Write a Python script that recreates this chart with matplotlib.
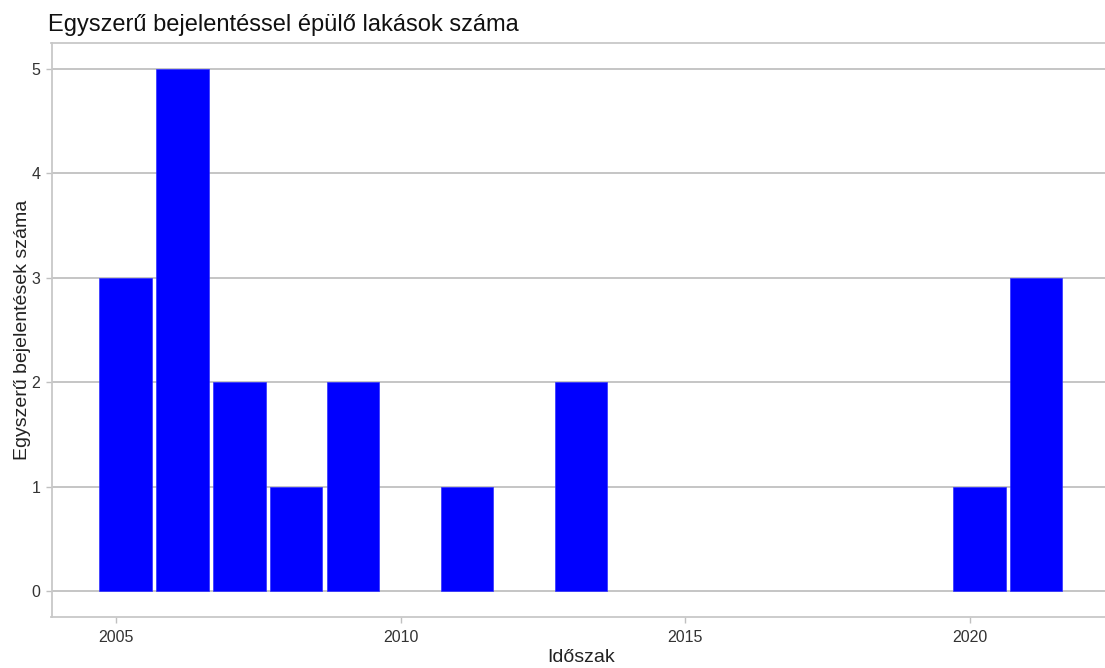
import matplotlib
matplotlib.use("Agg")
import matplotlib.pyplot as plt

years = [2005, 2006, 2007, 2008, 2009, 2011, 2013, 2020, 2021]
counts = [3, 5, 2, 1, 2, 1, 2, 1, 3]
xticks = [2005, 2010, 2015, 2020]
yticks = [0, 1, 2, 3, 4, 5]
title = "Egyszerű bejelentéssel épülő lakások száma"
xlabel = "Időszak"
ylabel = "Egyszerű bejelentések száma"

plt.rcParams['font.family'] = ['Liberation Sans', 'DejaVu Sans']

W, H = 1105, 668
fig = plt.figure(figsize=(W / 100, H / 100), dpi=100)
ax = fig.add_axes([51.5 / W, (H - 617) / H, (1111 - 51.5) / W, (617 - 43) / H])

offset = 0.167
ax.bar([y + offset for y in years], counts, width=0.92, color='#0000FF',
       edgecolor='#3030ff', linewidth=0.5, zorder=3)

ax.set_xlim(2003.867, 2022.48)
ax.set_ylim(-0.25, 5.25)
ax.set_xticks(xticks)
ax.set_xticklabels([str(t) for t in xticks])
ax.set_yticks(yticks)
ax.grid(axis='y', color='#c0c0c0', linewidth=1.3, zorder=0)
ax.grid(axis='x', visible=False)

for s in ['left', 'bottom', 'top']:
    ax.spines[s].set_color('#c8c8c8')
    ax.spines[s].set_linewidth(1.3)
ax.spines['right'].set_visible(False)

ax.tick_params(axis='both', colors='#c0c0c0', length=4, width=1, labelsize=11.5,
               labelcolor='#333333')
ax.tick_params(axis='x', pad=5)
ax.tick_params(axis='y', pad=4)

ax.set_xlabel(xlabel, fontsize=14, color='#222222', labelpad=3)
ax.set_ylabel(ylabel, fontsize=14, color='#222222', labelpad=0)
fig.text(48 / W, 1 - 31 / H, title, fontsize=17, color='#111111', ha='left',
         va='baseline')

fig.savefig("out.png", dpi=100, facecolor='white')
